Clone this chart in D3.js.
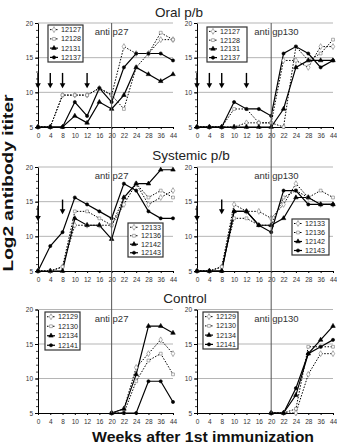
<!DOCTYPE html>
<html>
<head>
<meta charset="utf-8">
<script src="https://cdn.jsdelivr.net/npm/d3@7"></script>
<style>
  body { margin: 0; background: #fff; }
  svg { display: block; font-family: "Liberation Sans", Arial, sans-serif; }
</style>
</head>
<body>
<svg id="chart"></svg>
<script>
// x categories (weeks after 1st immunization) and y ticks
const weeks = ["0", "4", "8", "10", "12", "16", "20", "22", "24", "28", "36", "44"];
const yTicks = [5, 10, 15, 20];

// animal ids per group
const oralIds = ["12127", "12128", "12131", "12137"];
const systemicIds = ["12133", "12136", "12142", "12143"];
const controlIds = ["12129", "12130", "12134", "12141"];

// log2 titers, one row per animal (same order as ids)
const oralP27 = [
  [5, 5, 9.6, 9.6, 9.6, 10.6, 9.6, 16.6, 15.6, 15.6, 17.6, 17.6],
  [5, 5, 9.6, 9.6, 9.6, 10.6, 9.6, 7.6, 13.6, 15.6, 18.6, 17.6],
  [5, 5, 5, 6.6, 5.6, 8.6, 7.6, 9.6, 13.6, 12.6, 11.6, 12.6],
  [5, 5, 5, 8.6, 6.6, 10.6, 8.6, 13.6, 15.6, 15.6, 15.6, 14.6]
];
const oralGp130 = [
  [5, 5, 5, 5, 5.6, 5.6, 5.6, 14.6, 14.6, 13.6, 16.6, 16.6],
  [5, 5, 5, 7.6, 7.6, 5.6, 5.6, 5, 16.6, 14.6, 15.6, 17.6],
  [5, 5, 5, 5, 5, 5, 5, 7.6, 13.6, 14.6, 14.6, 14.6],
  [5, 5, 5, 8.6, 7.6, 7.6, 6.6, 15.6, 16.6, 15.6, 13.6, 14.6]
];
const systemicP27 = [
  [5, 5, 5.6, 11.6, 11.6, 11.6, 11.6, 14.6, 17.6, 14.6, 15.6, 16.6],
  [5, 5, 5.6, 13.6, 13.6, 12.6, 11.6, 15.6, 17.6, 15.6, 16.6, 15.6],
  [5, 5, 5, 12.6, 11.6, 11.6, 9.6, 15.6, 17.6, 17.6, 19.6, 19.6],
  [5, 8.6, 10.6, 15.6, 14.6, 13.6, 12.6, 17.6, 16.6, 13.6, 12.6, 12.6]
];
const systemicGp130 = [
  [5, 5, 5.6, 14.6, 13.6, 13.6, 12.6, 14.6, 17.6, 15.6, 14.6, 14.6],
  [5, 5, 5.6, 12.6, 12.6, 11.6, 11.6, 15.6, 16.6, 15.6, 16.6, 15.6],
  [5, 5, 5, 13.6, 13.6, 11.6, 11.6, 12.6, 15.6, 15.6, 14.6, 14.6],
  [5, 5, 5, 13.6, 13.6, 11.6, 10.6, 16.6, 16.6, 14.6, 14.6, 14.6]
];
const controlP27 = [
  [null, null, null, null, null, null, 5, 5.6, 11.6, 13.6, 15.6, 13.6],
  [null, null, null, null, null, null, 5, 5, 9.6, 12.6, 13.6, 10.6],
  [null, null, null, null, null, null, 5, 5.6, 10.6, 17.6, 17.6, 16.6],
  [null, null, null, null, null, null, 5, 5, 5, 9.6, 9.6, 6.6]
];
const controlGp130 = [
  [null, null, null, null, null, null, 5, 5, 5, 10.6, 13.6, 13.6],
  [null, null, null, null, null, null, 5, 5, 5.6, 14.6, 14.6, 14.6],
  [null, null, null, null, null, null, 5, 5, 7.6, 13.6, 15.6, 17.6],
  [null, null, null, null, null, null, 5, 5, 8.6, 13.6, 14.6, 15.6]
];

// immunization arrows: week, top value, tip value
const oralArrowWeeks = ["0", "4", "8", "12"];
const oralArrowTop = [12.8, 12.8, 12.8, 12.8];
const oralArrowTip = [10.6, 10.6, 10.6, 10.6];
const systemicArrowWeeks = ["0", "8"];
const systemicArrowTop = [14.4, 15.3];
const systemicArrowTip = [12.2, 13.2];

const width = 337, height = 446;
const cols = [{x0: 38, x1: 173}, {x0: 197, x1: 333}];
const rows = [{top: 23, bot: 127}, {top: 167, bot: 271}, {top: 309.5, bot: 413}];

const panels = [
  {col: 0, row: 0, label: "anti p27", data: oralP27, ids: oralIds, legend: [48, 25, 35, 37], arrows: [oralArrowWeeks, oralArrowTop, oralArrowTip]},
  {col: 1, row: 0, label: "anti gp130", data: oralGp130, ids: oralIds, legend: [207, 27, 40, 35], arrows: [oralArrowWeeks, oralArrowTop, oralArrowTip]},
  {col: 0, row: 1, label: "anti p27", data: systemicP27, ids: systemicIds, legend: [128, 223, 35, 34], arrows: [systemicArrowWeeks, systemicArrowTop, systemicArrowTip]},
  {col: 1, row: 1, label: "anti gp130", data: systemicGp130, ids: systemicIds, legend: [292, 219, 37, 36], arrows: [systemicArrowWeeks, systemicArrowTop, systemicArrowTip]},
  {col: 0, row: 2, label: "anti p27", data: controlP27, ids: controlIds, legend: [45, 312, 35, 38], arrows: null},
  {col: 1, row: 2, label: "anti gp130", data: controlGp130, ids: controlIds, legend: [203, 312, 35, 37], arrows: null}
];

const titles = [
  {text: "Oral p/b", x: 179, y: 17},
  {text: "Systemic p/b", x: 191, y: 160},
  {text: "Control", x: 185, y: 303}
];

// series styles: dotted diamond, dotted square, solid triangle, solid circle
const dashes = ["1.5,1.5", "1.5,1.5", null, null];
const symbols = [d3.symbolDiamond, d3.symbolSquare, d3.symbolTriangle, d3.symbolCircle];
const symSize = [10, 8, 9, 8];
const symFill = ["#fff", "#fff", "#000", "#000"];
const symStroke = ["#777", "#777", "#000", "#000"];

const svg = d3.select("#chart")
  .attr("width", width)
  .attr("height", height);

svg.append("rect").attr("width", width).attr("height", height).attr("fill", "#fff");

panels.forEach(p => {
  const c = cols[p.col], r = rows[p.row];
  const x = d3.scalePoint().domain(weeks).range([c.x0, c.x1]);
  const y = d3.scaleLinear().domain([5, 20]).range([r.bot, r.top]);
  const g = svg.append("g");

  // gridlines
  g.selectAll(".grid")
    .data(yTicks.filter(t => t > 5))
    .join("line")
    .attr("x1", c.x0).attr("x2", c.x1)
    .attr("y1", d => y(d)).attr("y2", d => y(d))
    .attr("stroke", "#b5b5b5").attr("stroke-width", 1);

  // y axis minor ticks
  g.append("g")
    .attr("transform", `translate(${c.x0},0)`)
    .call(d3.axisLeft(y).tickValues(d3.range(5, 21)).tickSize(2).tickFormat(""))
    .call(a => a.select(".domain").remove())
    .selectAll("line").attr("stroke", "#444");

  // y axis
  g.append("g")
    .attr("transform", `translate(${c.x0},0)`)
    .call(d3.axisLeft(y).tickValues(yTicks).tickSize(3).tickSizeOuter(0).tickPadding(2))
    .call(a => a.select(".domain").attr("stroke", "#000"))
    .call(a => a.selectAll("text").attr("font-size", 6.5).attr("fill", "#333"));

  // x axis
  g.append("g")
    .attr("transform", `translate(0,${r.bot})`)
    .call(d3.axisBottom(x).tickSize(2).tickSizeOuter(0).tickPadding(4))
    .call(a => a.select(".domain").attr("stroke", "#000"))
    .call(a => a.selectAll("text").attr("font-size", 6.5).attr("fill", "#333"));

  // annotation
  g.append("text")
    .attr("x", x("20") - 17)
    .attr("y", r.top + 12)
    .attr("font-size", 9.5)
    .attr("fill", "#333")
    .text(p.label);

  // arrows
  if (p.arrows) {
    const [aw, at, ab] = p.arrows;
    aw.forEach((w, i) => {
      const ax = x(w), y0 = y(at[i]), y1 = y(ab[i]);
      g.append("line")
        .attr("x1", ax).attr("x2", ax)
        .attr("y1", y0).attr("y2", y1 - 4)
        .attr("stroke", "#000").attr("stroke-width", 1.4);
      g.append("path")
        .attr("d", `M${ax - 2.8},${y1 - 5}L${ax + 2.8},${y1 - 5}L${ax},${y1}Z`)
        .attr("fill", "#000");
    });
  }

  // series lines
  const line = d3.line()
    .defined(d => d != null)
    .x((d, i) => x(weeks[i]))
    .y(d => y(d));

  p.data.forEach((s, k) => {
    g.append("path")
      .attr("d", line(s))
      .attr("fill", "none")
      .attr("stroke", "#000")
      .attr("stroke-width", k < 2 ? 1 : 1.2)
      .attr("stroke-dasharray", dashes[k]);
  });
  p.data.forEach((s, k) => {
    g.selectAll(null)
      .data(s.map((v, i) => ({v, w: weeks[i]})).filter(d => d.v != null))
      .join("path")
      .attr("transform", d => `translate(${x(d.w)},${y(d.v)})`)
      .attr("d", d3.symbol(symbols[k], symSize[k]))
      .attr("fill", symFill[k])
      .attr("stroke", symStroke[k])
      .attr("stroke-width", 0.6);
  });

  // legend
  const [lx, ly, lw, lh] = p.legend;
  const lg = g.append("g");
  lg.append("rect")
    .attr("x", lx).attr("y", ly).attr("width", lw).attr("height", lh)
    .attr("fill", "#fff").attr("stroke", "#333").attr("stroke-width", 1.2);
  const rowH = lh / 4;
  p.ids.forEach((id, k) => {
    const cy = ly + rowH * (k + 0.5);
    lg.append("line")
      .attr("x1", lx + 2).attr("x2", lx + 10)
      .attr("y1", cy).attr("y2", cy)
      .attr("stroke", "#000").attr("stroke-width", k < 2 ? 1 : 1.2)
      .attr("stroke-dasharray", dashes[k]);
    lg.append("path")
      .attr("transform", `translate(${lx + 6},${cy})`)
      .attr("d", d3.symbol(symbols[k], symSize[k]))
      .attr("fill", symFill[k]).attr("stroke", symStroke[k]).attr("stroke-width", 0.6);
    lg.append("text")
      .attr("x", lx + 13).attr("y", cy + 2.5)
      .attr("font-size", 7.2)
      .attr("fill", "#222")
      .text(id);
  });
});

// week-20 reference lines crossing all panels
cols.forEach(c => {
  const x = d3.scalePoint().domain(weeks).range([c.x0, c.x1]);
  svg.append("line")
    .attr("x1", x("20")).attr("x2", x("20"))
    .attr("y1", rows[0].top).attr("y2", rows[2].bot)
    .attr("stroke", "#555").attr("stroke-width", 1);
});

// group titles
svg.selectAll(".title")
  .data(titles)
  .join("text")
  .attr("x", d => d.x)
  .attr("y", d => d.y)
  .attr("text-anchor", "middle")
  .attr("font-size", 13.5)
  .attr("fill", "#222")
  .text(d => d.text);

// axis titles
svg.append("text")
  .attr("x", 203)
  .attr("y", 442)
  .attr("text-anchor", "middle")
  .attr("font-size", 15)
  .attr("font-weight", "bold")
  .attr("fill", "#111")
  .attr("textLength", 222)
  .attr("lengthAdjust", "spacingAndGlyphs")
  .text("Weeks after 1st immunization");

svg.append("text")
  .attr("transform", "translate(13,183) rotate(-90)")
  .attr("text-anchor", "middle")
  .attr("font-size", 14.5)
  .attr("font-weight", "bold")
  .attr("fill", "#111")
  .attr("textLength", 177)
  .attr("lengthAdjust", "spacingAndGlyphs")
  .text("Log2 antibody ititer");
</script>
</body>
</html>
